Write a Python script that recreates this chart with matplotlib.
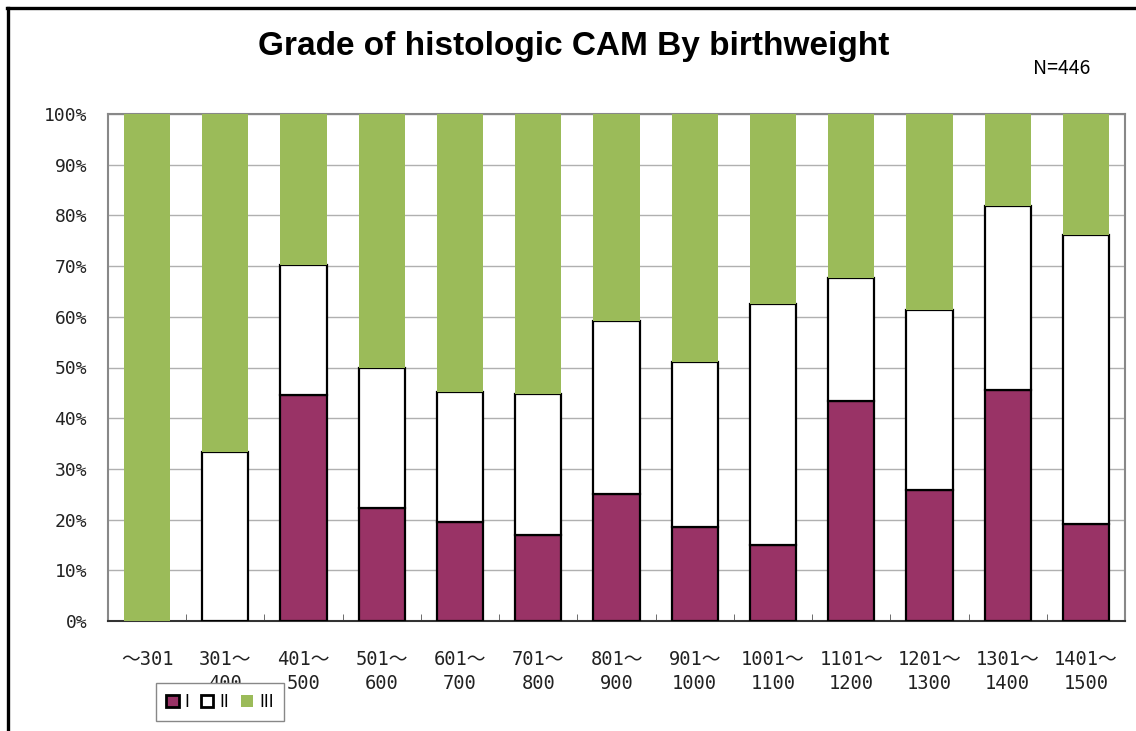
import matplotlib
matplotlib.use('Agg')
import matplotlib.pyplot as plt
from matplotlib.lines import Line2D
from matplotlib.patches import Patch
import numpy as np

# birthweight classes (g)
categories = ['～301', '301～\n400', '401～\n500', '501～\n600', '601～\n700',
              '701～\n800', '801～\n900', '901～\n1000', '1001～\n1100',
              '1101～\n1200', '1201～\n1300', '1301～\n1400', '1401～\n1500']

# percentages
grade1 = [0.0, 0.0, 44.6, 22.2, 19.6, 17.0, 25.0, 18.6, 15.0, 43.3, 25.8, 45.5, 19.1]
grade1_2 = [0.0, 33.3, 70.3, 50.0, 45.1, 44.7, 59.1, 51.1, 62.5, 67.6, 61.3, 81.8, 76.2]
grade2 = [c - a for a, c in zip(grade1, grade1_2)]
grade3 = [100 - c for c in grade1_2]

PURPLE = '#993366'
GREEN = '#9BBB59'

fig = plt.figure(figsize=(11.36, 7.31), dpi=100)
ax = fig.add_axes([108 / 1136, 110 / 731, 1017 / 1136, 507 / 731])

x = np.arange(len(categories))
w = 0.59
ax.bar(x, grade1, w, color=PURPLE, edgecolor='black', linewidth=1.6, zorder=3)
ax.bar(x, grade2, w, bottom=grade1, color='white', edgecolor='black', linewidth=1.6, zorder=3)
ax.bar(x, grade3, w, bottom=grade1_2, color=GREEN, linewidth=0, zorder=3)

ax.set_xlim(-0.5, len(categories) - 0.5)
ax.set_ylim(0, 100)
ax.set_yticks(np.arange(0, 101, 10))
ax.set_yticklabels([f'{v}%' for v in range(0, 101, 10)],
                   family='DejaVu Sans Mono', fontsize=13, color='#222222')
ax.yaxis.grid(True, color='#b0b0b0', linewidth=1, zorder=0)
ax.tick_params(axis='y', length=0, pad=15)

ax.set_xticks(x)
ax.set_xticklabels(categories, family=['DejaVu Sans Mono', 'Noto Sans CJK JP'],
                   fontsize=13.5, color='#222222', linespacing=1.35)
ax.tick_params(axis='x', length=0, pad=21)
ax.set_xticks(x[:-1] + 0.5, minor=True)
ax.tick_params(axis='x', which='minor', direction='in', length=5, color='#555555')

for side in ['left', 'right', 'top']:
    ax.spines[side].set_color('#888888')
    ax.spines[side].set_linewidth(1.5)
ax.spines['bottom'].set_color('#333333')
ax.spines['bottom'].set_linewidth(1.5)

fig.text(574 / 1136, 1 - 46 / 731, 'Grade of histologic CAM By birthweight',
         ha='center', va='center', fontsize=24, fontweight='bold',
         family='Liberation Sans')
fig.text(1062 / 1136, 1 - 68 / 731, 'N=446', ha='center', va='center',
         fontsize=14, family='Noto Sans CJK JP')

# outer chart-area frame (left and top edges)
fig.add_artist(Line2D([8 / 1136, 8 / 1136], [0, 1 - 8 / 731], transform=fig.transFigure,
                      color='black', linewidth=2.4))
fig.add_artist(Line2D([7 / 1136, 1], [1 - 8 / 731, 1 - 8 / 731], transform=fig.transFigure,
                      color='black', linewidth=2.4))

handles = [Patch(facecolor=PURPLE, edgecolor='black', linewidth=2),
           Patch(facecolor='white', edgecolor='black', linewidth=2),
           Patch(facecolor=GREEN, edgecolor=GREEN, linewidth=0)]
leg = fig.legend(handles, ['I', 'II', 'III'], loc='upper left',
                 bbox_to_anchor=(156 / 1136, 1 - 683 / 731), ncol=3,
                 fontsize=12, handlelength=0.75, handleheight=0.75,
                 handletextpad=0.35, columnspacing=0.7, borderpad=0.6,
                 borderaxespad=0, fancybox=False, framealpha=1,
                 edgecolor='#888888')
leg.get_frame().set_linewidth(1.0)

fig.savefig('out.png', dpi=100)
